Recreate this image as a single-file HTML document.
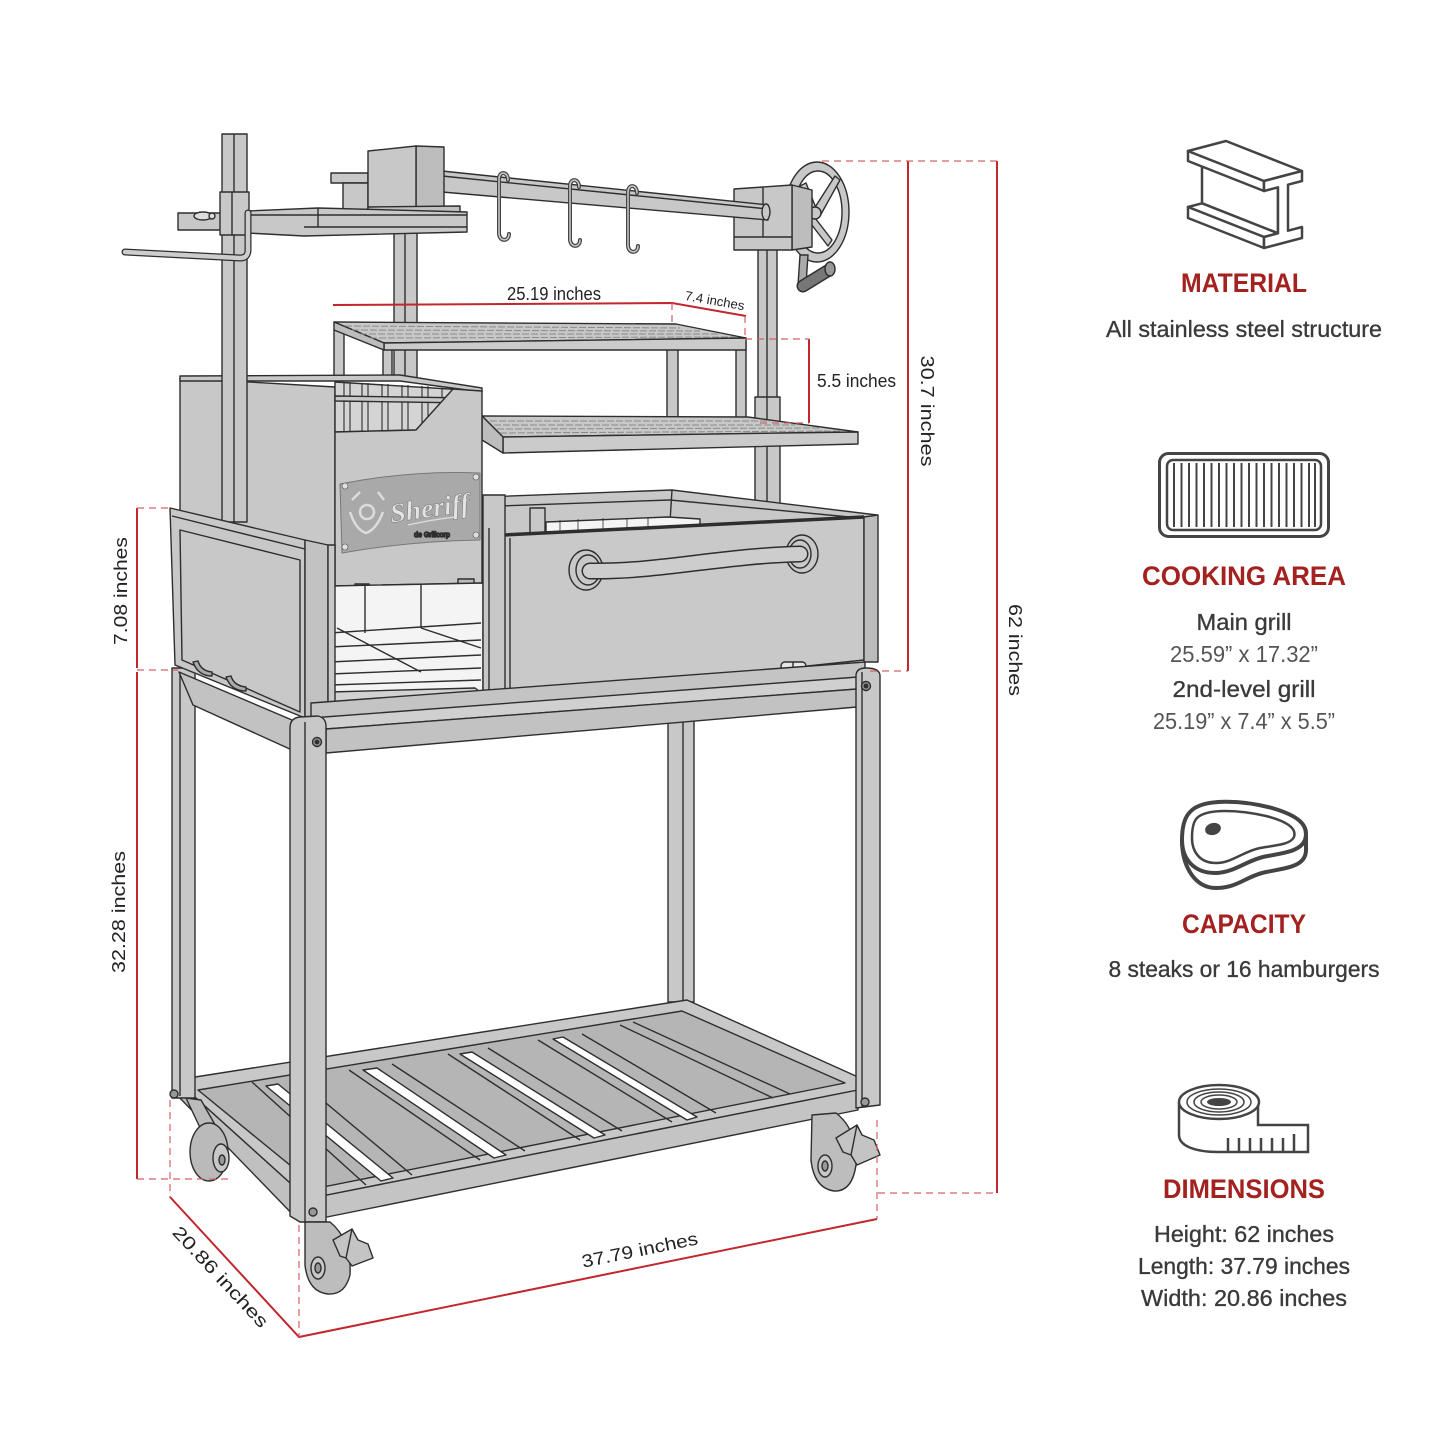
<!DOCTYPE html>
<html><head><meta charset="utf-8"><style>html,body{margin:0;padding:0;background:#fff}svg{display:block}</style></head>
<body>
<svg width="1445" height="1445" viewBox="0 0 1445 1445" xmlns="http://www.w3.org/2000/svg" font-family="Liberation Sans, sans-serif">
<rect width="1445" height="1445" fill="#fff"/>

<g stroke="#2e2e2e" stroke-width="1.4" stroke-linejoin="round" fill="#c8c8c8">
<!-- back-right leg -->
<rect x="668" y="700" width="26" height="302"/>
<line x1="683" y1="700" x2="683" y2="1002"/>

<!-- bottom shelf -->
<polygon points="176,1080 687,1000 858,1077 858,1090 322,1196 300,1192"/>
<polygon points="198,1090 682,1011 845,1083 318,1188" fill="#b5b5b5"/>
<polygon points="266,1086 278,1084 393,1178 381,1181" fill="#fff"/>
<polygon points="363,1070 377,1068 506,1155 494,1158" fill="#fff"/>
<polygon points="460,1054 472,1052 605,1135 594,1138" fill="#fff"/>
<polygon points="553,1039 563,1037 697,1117 687,1120" fill="#fff"/>
<g fill="none">
<line x1="252" y1="1082" x2="366" y2="1185"/>
<line x1="296" y1="1078" x2="412" y2="1175"/>
<line x1="349" y1="1070" x2="480" y2="1160"/>
<line x1="392" y1="1064" x2="525" y2="1151"/>
<line x1="448" y1="1054" x2="580" y2="1140"/>
<line x1="488" y1="1048" x2="622" y2="1131"/>
<line x1="538" y1="1040" x2="672" y2="1122"/>
<line x1="582" y1="1034" x2="716" y2="1113"/>
<line x1="620" y1="1025" x2="773" y2="1098"/>
<line x1="633" y1="1022" x2="790" y2="1094"/>
</g>
<polygon points="322,1196 858,1090 858,1110 322,1218" fill="#c4c4c4"/>
<polygon points="176,1080 300,1192 300,1222 176,1094" fill="#c0c0c0"/>

<!-- back-left leg & wheel -->
<polygon points="186,1098 201,1100 218,1130 203,1134" fill="#bbb"/>
<ellipse cx="209" cy="1152" rx="19" ry="29" fill="#bababa"/>
<ellipse cx="221" cy="1158" rx="8" ry="14" fill="#c8c8c8"/>
<ellipse cx="222" cy="1160" rx="3" ry="5" fill="#999"/>
<rect x="172" y="668" width="23" height="430"/>
<line x1="180" y1="672" x2="180" y2="1096"/>
<circle cx="174" cy="1094" r="4" fill="#999"/>

<!-- right post -->
<rect x="758" y="248" width="19" height="150"/>
<rect x="755" y="397" width="25" height="120"/>
<line x1="767" y1="250" x2="767" y2="515"/>
<!-- middle post -->
<rect x="394" y="232" width="23" height="148"/>
<line x1="405" y1="232" x2="405" y2="380"/>

<!-- top grill legs -->
<rect x="334" y="330" width="10" height="50"/>
<rect x="383" y="349" width="9" height="30"/>
<rect x="667" y="349" width="11" height="70"/>
<rect x="736" y="342" width="10" height="81"/>
<!-- top grill -->
<polygon points="334,322 676,324 746,338 384,343"/>
<polygon points="384,343 746,338 746,350 384,350" fill="#cbcbcb"/>
<polygon points="334,322 384,343 384,350 334,330" fill="#bdbdbd"/>
<g stroke="#8a8a8a" stroke-width="1" stroke-dasharray="7 2" fill="none">
<line x1="345" y1="326" x2="680" y2="328"/>
<line x1="352" y1="330" x2="700" y2="331"/>
<line x1="360" y1="334" x2="718" y2="334"/>
<line x1="370" y1="338" x2="735" y2="337"/>
</g>

<!-- rotisserie wheel -->
<ellipse cx="817" cy="212" rx="32" ry="50"/>
<ellipse cx="818" cy="212" rx="24" ry="41" fill="#fff"/>
<polygon points="812,212 835,176 840,180 820,216" />
<polygon points="812,214 832,240 828,246 808,220"/>
<polygon points="810,210 800,186 806,183 816,208"/>
<circle cx="815" cy="213" r="6"/>
<!-- crank -->
<polygon points="800,255 808,255 806,285 798,285" fill="#aaa"/>
<line x1="803" y1="286" x2="829" y2="270" stroke="#2e2e2e" stroke-width="13" stroke-linecap="round"/>
<line x1="803" y1="286" x2="829" y2="270" stroke="#777" stroke-width="10" stroke-linecap="round"/>
<ellipse cx="830" cy="269" rx="5" ry="7" fill="#999"/>

<!-- rotisserie box -->
<polygon points="792,185 812,190 812,247 792,250" fill="#bdbdbd"/>
<polygon points="734,189 792,185 792,250 734,250"/>
<line x1="734" y1="237" x2="792" y2="237"/>
<line x1="763" y1="187" x2="763" y2="237"/>

<!-- spit bar -->
<polygon points="442,171 768,205 768,220 442,192"/>
<line x1="442" y1="176" x2="768" y2="209"/>
<ellipse cx="766" cy="212" rx="4" ry="8"/>

<!-- hooks -->
<g fill="none" stroke-linecap="round">
<path d="M508,180 C508,171 499,171 499,179 L499,233 C499,242 509,242 509,234" stroke="#444" stroke-width="4"/>
<path d="M508,180 C508,171 499,171 499,179 L499,233 C499,242 509,242 509,234" stroke="#ccc" stroke-width="1.5"/>
<path d="M579,187 C579,178 570,178 570,186 L570,239 C570,248 580,248 580,240" stroke="#444" stroke-width="4"/>
<path d="M579,187 C579,178 570,178 570,186 L570,239 C570,248 580,248 580,240" stroke="#ccc" stroke-width="1.5"/>
<path d="M637,193 C637,184 628,184 628,192 L628,245 C628,254 638,254 638,246" stroke="#444" stroke-width="4"/>
<path d="M637,193 C637,184 628,184 628,192 L628,245 C628,254 638,254 638,246" stroke="#ccc" stroke-width="1.5"/>
</g>

<!-- motor -->
<rect x="331" y="173" width="37" height="10"/>
<rect x="343" y="183" width="25" height="28"/>
<polygon points="416,146 444,147 444,207 416,211" fill="#bdbdbd"/>
<polygon points="368,151 416,146 416,211 368,212"/>
<polygon points="368,207 460,206 460,213 368,214" fill="#c0c0c0"/>

<!-- shelf plate -->
<polygon points="247,211 318,208 467,212 467,232 304,236 247,233"/>
<line x1="318" y1="208" x2="318" y2="227"/>
<line x1="247" y1="215" x2="467" y2="215"/>
<line x1="304" y1="227" x2="467" y2="227"/>
<!-- clamp block -->
<rect x="178" y="213" width="44" height="17"/>
<ellipse cx="203" cy="216" rx="9" ry="4" fill="#ddd"/>
<circle cx="212" cy="216" r="3" fill="#ddd"/>

<!-- main grill -->
<polygon points="482,416 748,417 858,432 503,437"/>
<polygon points="503,437 858,432 858,444 503,453" fill="#cbcbcb"/>
<polygon points="482,416 503,437 503,453 482,440" fill="#bdbdbd"/>
<g stroke="#8a8a8a" stroke-width="1" stroke-dasharray="7 2" fill="none">
<line x1="490" y1="421" x2="770" y2="421"/>
<line x1="494" y1="425" x2="795" y2="425"/>
<line x1="497" y1="429" x2="820" y2="428"/>
<line x1="500" y1="433" x2="842" y2="431"/>
</g>

<!-- main box -->
<polygon points="484,497 672,490 877,515 864,518 505,536"/>
<line x1="500" y1="506" x2="670" y2="500"/>
<line x1="670" y1="500" x2="860" y2="518"/>
<line x1="672" y1="490" x2="670" y2="522"/>
<polygon points="546,522 668,517 700,519 700,526 546,533" fill="#f4f4f4"/>
<g stroke-width="0.8"><line x1="560" y1="520" x2="560" y2="533"/><line x1="578" y1="519" x2="578" y2="532"/><line x1="603" y1="518" x2="603" y2="530"/><line x1="627" y1="518" x2="627" y2="529"/><line x1="648" y1="517" x2="648" y2="528"/></g>
<rect x="530" y="508" width="15" height="27"/>
<polygon points="504,535 864,517 864,660 504,698" fill="#c9c9c9"/>
<line x1="504" y1="535" x2="864" y2="517" stroke-width="3.5"/>
<line x1="510" y1="538" x2="510" y2="697"/>
<polygon points="864,517 878,515 878,662 864,662" fill="#bcbcbc"/>
<!-- handle -->
<ellipse cx="586" cy="570" rx="17" ry="20"/>
<ellipse cx="588" cy="570" rx="12" ry="15"/>
<ellipse cx="802" cy="554" rx="16" ry="19"/>
<ellipse cx="800" cy="554" rx="11" ry="14"/>
<path d="M590,571 C660,572 720,556 800,554" fill="none" stroke="#2e2e2e" stroke-width="17" stroke-linecap="round"/>
<path d="M590,571 C660,572 720,556 800,554" fill="none" stroke="#cdcdcd" stroke-width="14" stroke-linecap="round"/>
<!-- hinges -->
<rect x="553" y="689" width="29" height="8" rx="4" fill="#e6e6e6"/>
<line x1="566" y1="689" x2="566" y2="697"/>
<rect x="781" y="662" width="25" height="8" rx="4" fill="#e6e6e6"/>
<line x1="793" y1="662" x2="793" y2="670"/>

<!-- firebox side panel -->
<polygon points="180,378 335,387 335,560 180,530"/>
<!-- rack -->
<polygon points="335,382 482,391 453,391 416,430 335,432" fill="#d4d4d4"/>
<g stroke-width="1.1">
<line x1="344" y1="382" x2="344" y2="432"/><line x1="350" y1="382" x2="350" y2="432"/>
<line x1="362" y1="383" x2="362" y2="432"/><line x1="368" y1="383" x2="368" y2="432"/>
<line x1="382" y1="384" x2="382" y2="431"/><line x1="388" y1="384" x2="388" y2="431"/>
<line x1="402" y1="385" x2="402" y2="431"/><line x1="408" y1="385" x2="408" y2="431"/>
<line x1="422" y1="386" x2="422" y2="425"/><line x1="428" y1="386" x2="428" y2="418"/>
<line x1="442" y1="388" x2="442" y2="402"/>
</g>
<polygon points="335,396 470,398 470,403 335,401"/>
<polygon points="180,376 400,375 482,388 482,392 400,381 180,381"/>
<!-- front panel -->
<polygon points="335,432 416,430 453,389 482,391 482,583 335,586"/>
<rect x="355" y="584" width="14" height="5" fill="#bbb"/>
<rect x="458" y="579" width="16" height="5" fill="#bbb"/>
<!-- logo -->
<path d="M340,484 Q410,470 480,473 L480,540 Q410,541 342,553 Z" fill="#a9a9a9" stroke="#777" stroke-width="1"/>
<g fill="#e0e0e0" stroke="#555" stroke-width="0.6">
<circle cx="345" cy="486" r="3"/><circle cx="476" cy="477" r="3"/><circle cx="345" cy="547" r="3"/><circle cx="476" cy="535" r="3"/>
</g>
<g fill="none" stroke="#dcdcdc" stroke-width="2.5">
<path d="M352,500 L360,492"/><path d="M378,492 L384,500"/>
<path d="M350,512 Q356,530 366,533 Q376,530 383,512"/>
<circle cx="367" cy="512" r="7"/>
</g>
<text x="431" y="517" font-size="27" font-style="italic" font-weight="bold" fill="#e4e4e4" stroke="#777" stroke-width="0.5" text-anchor="middle" transform="rotate(-8 431 517)" textLength="80" lengthAdjust="spacingAndGlyphs" font-family="Liberation Serif, serif">Sheriff</text>
<path d="M408,525 Q430,520 455,517" fill="none" stroke="#ddd" stroke-width="1.2"/>
<text x="432" y="537" font-size="7" fill="#dcdcdc" text-anchor="middle">de Grillcorp</text>

<!-- left post -->
<rect x="222" y="134" width="25" height="388"/>
<line x1="234" y1="134" x2="234" y2="522"/>
<rect x="220" y="192" width="29" height="43"/>
<line x1="232" y1="192" x2="232" y2="235"/>
<!-- handle rod -->
<path d="M125,252 L240,258 Q248,258 248,250 L248,213" fill="none" stroke="#2e2e2e" stroke-width="7" stroke-linecap="round"/>
<path d="M125,252 L240,258 Q248,258 248,250 L248,213" fill="none" stroke="#cdcdcd" stroke-width="4.5" stroke-linecap="round"/>

<!-- opening under firebox -->
<polygon points="330,586 483,583 483,703 330,705" fill="#f4f4f4"/>
<line x1="365" y1="586" x2="365" y2="633"/>
<line x1="421" y1="585" x2="421" y2="628"/>
<line x1="330" y1="633" x2="481" y2="623"/>
<line x1="330" y1="647" x2="481" y2="640"/>
<line x1="330" y1="662" x2="481" y2="655"/>
<line x1="330" y1="674" x2="481" y2="668"/>
<line x1="330" y1="685" x2="481" y2="680"/>
<line x1="337" y1="628" x2="421" y2="672"/>
<line x1="421" y1="628" x2="481" y2="648"/>
<polygon points="330,692 475,688 483,694 483,703 330,705" fill="#d2d2d2"/>

<!-- pillar -->
<rect x="483" y="495" width="22" height="208"/>
<line x1="489" y1="528" x2="489" y2="703"/>

<!-- left box -->
<polygon points="170,508 305,540 305,718 175,665"/>
<line x1="172" y1="516" x2="305" y2="549"/>
<polygon points="180,530 300,560 300,712 182,660" fill="none"/>
<polygon points="305,540 328,545 328,718 305,718" fill="#c2c2c2"/>
<rect x="328" y="545" width="7" height="173"/>
<g fill="#aaa">
<path d="M193,662 Q198,676 212,676 L212,672 Q201,671 198,661 Z"/>
<path d="M226,677 Q231,691 246,691 L246,687 Q234,686 231,676 Z"/>
</g>

<!-- top frame band & rails -->
<polygon points="311,703 865,662 865,678 311,720" fill="#c4c4c4"/>
<polygon points="311,718 858,677 858,689 326,729" fill="#d0d0d0"/>
<polygon points="326,729 857,689 857,707 326,753" fill="#c2c2c2"/>
<polygon points="179,672 292,720 292,750 193,705" fill="#c2c2c2"/>

<!-- front-left leg -->
<path d="M290,1216 L290,728 Q290,718 300,717 L318,716 Q326,718 326,726 L326,1222 L300,1222 Z"/>
<line x1="305" y1="722" x2="305" y2="1222"/>
<circle cx="317" cy="742" r="4.5" fill="#999"/><circle cx="317" cy="742" r="1.8" fill="#333"/>
<circle cx="313" cy="1212" r="4" fill="#999"/>
<!-- front-right leg -->
<path d="M856,1108 L856,676 Q856,668 866,668 Q880,668 880,676 L880,1105 Z"/>
<line x1="862" y1="672" x2="862" y2="1107"/>
<circle cx="866" cy="686" r="4.5" fill="#999"/><circle cx="866" cy="686" r="1.8" fill="#333"/>
<circle cx="865" cy="1102" r="4" fill="#999"/>

<!-- front-left wheel -->
<path d="M305,1222 L330,1222 Q352,1240 350,1275 Q345,1295 328,1294 Q308,1292 305,1265 Z" fill="#bdbdbd"/>
<ellipse cx="318" cy="1268" rx="7" ry="11" fill="#c8c8c8"/>
<ellipse cx="318" cy="1268" rx="3" ry="5" fill="#999"/>
<polygon points="333,1240 352,1229 358,1240 368,1244 373,1258 352,1266 346,1258 340,1256" fill="#c4c4c4"/>
<line x1="352" y1="1229" x2="346" y2="1258"/>
<!-- front-right wheel -->
<path d="M812,1115 L836,1113 Q858,1130 856,1165 Q852,1192 834,1191 Q814,1188 811,1160 Z" fill="#bdbdbd"/>
<ellipse cx="825" cy="1166" rx="7" ry="11" fill="#c8c8c8"/>
<ellipse cx="825" cy="1166" rx="3" ry="5" fill="#999"/>
<polygon points="836,1138 857,1125 862,1135 874,1140 880,1155 857,1165 851,1155 843,1152" fill="#c4c4c4"/>
<line x1="857" y1="1125" x2="851" y2="1155"/>
</g>

<!-- dimension lines -->
<g stroke="#c1272d" stroke-width="2" fill="none">
<line x1="997" y1="161" x2="997" y2="1193"/>
<line x1="908" y1="161" x2="908" y2="671"/>
<line x1="809" y1="339" x2="809" y2="423"/>
<polyline points="333,305 672,303 746,316"/>
<line x1="137" y1="508" x2="137" y2="668"/>
<line x1="137" y1="672" x2="137" y2="1179"/>
<polyline points="170,1197 299,1337 877,1219"/>
</g>
<g stroke="#d5606a" stroke-width="1.2" stroke-dasharray="7 5" fill="none">
<line x1="822" y1="161" x2="997" y2="161"/>
<line x1="870" y1="671" x2="908" y2="671"/>
<line x1="878" y1="1193" x2="997" y2="1193"/>
<line x1="745" y1="339" x2="809" y2="339"/>
<line x1="760" y1="423" x2="809" y2="423"/>
<line x1="672" y1="303" x2="672" y2="325"/>
<line x1="745" y1="316" x2="745" y2="338"/>
<line x1="137" y1="508" x2="170" y2="508"/>
<line x1="137" y1="670" x2="178" y2="670"/>
<line x1="137" y1="1179" x2="232" y2="1179"/>
<line x1="170" y1="1100" x2="170" y2="1197"/>
<line x1="299" y1="1225" x2="299" y2="1337"/>
<line x1="877" y1="1120" x2="877" y2="1219"/>
</g>

<!-- dimension labels -->
<g fill="#222" font-size="18">
<text x="554" y="300" text-anchor="middle" textLength="94" lengthAdjust="spacingAndGlyphs">25.19 inches</text>
<text x="0" y="0" font-size="13" text-anchor="middle" textLength="60" lengthAdjust="spacingAndGlyphs" transform="translate(714,305) rotate(10)">7.4 inches</text>
<text x="817" y="387" textLength="79" lengthAdjust="spacingAndGlyphs">5.5 inches</text>
<text x="0" y="0" text-anchor="middle" textLength="111" lengthAdjust="spacingAndGlyphs" transform="translate(921,411) rotate(90)">30.7 inches</text>
<text x="0" y="0" text-anchor="middle" textLength="92" lengthAdjust="spacingAndGlyphs" transform="translate(1009,650) rotate(90)">62 inches</text>
<text x="0" y="0" text-anchor="middle" textLength="108" lengthAdjust="spacingAndGlyphs" transform="translate(127,591) rotate(-90)">7.08 inches</text>
<text x="0" y="0" text-anchor="middle" textLength="122" lengthAdjust="spacingAndGlyphs" transform="translate(125,912) rotate(-90)">32.28 inches</text>
<text x="0" y="0" text-anchor="middle" textLength="131" lengthAdjust="spacingAndGlyphs" transform="translate(216,1281) rotate(47)">20.86 inches</text>
<text x="0" y="0" text-anchor="middle" textLength="118" lengthAdjust="spacingAndGlyphs" transform="translate(641,1256) rotate(-11.5)">37.79 inches</text>
</g>

<!-- ICONS -->
<g stroke="#444" stroke-width="2.5" stroke-linejoin="round" fill="#fff">
<!-- I-beam -->
<polygon points="1278,187.3 1278,233.3 1202,203.3 1202,157.3"/>
<polygon points="1264,237 1278,233.3 1202,203.3 1188,207"/>
<polygon points="1264,237 1264,248 1188,218 1188,207"/>
<polygon points="1264,181 1264,191 1188,161 1188,151"/>
<polygon points="1264,181 1302,171 1226,141 1188,151"/>
<polygon points="1264,181 1302,171 1302,181 1288,184.7 1288,230.7 1302,227 1302,238 1264,248 1264,237 1278,233.3 1278,187.3 1264,191"/>
<!-- grill icon -->
<rect x="1159.5" y="453.5" width="169" height="83" rx="9" stroke-width="3"/>
<rect x="1167" y="460" width="154" height="70" rx="6"/>
</g>
<g stroke="#444" stroke-width="2">
<line x1="1174" y1="463" x2="1174" y2="527"/><line x1="1181.5" y1="463" x2="1181.5" y2="527"/>
<line x1="1189" y1="463" x2="1189" y2="527"/><line x1="1196.5" y1="463" x2="1196.5" y2="527"/>
<line x1="1204" y1="463" x2="1204" y2="527"/><line x1="1211.5" y1="463" x2="1211.5" y2="527"/>
<line x1="1219" y1="463" x2="1219" y2="527"/><line x1="1226.5" y1="463" x2="1226.5" y2="527"/>
<line x1="1234" y1="463" x2="1234" y2="527"/><line x1="1241.5" y1="463" x2="1241.5" y2="527"/>
<line x1="1249" y1="463" x2="1249" y2="527"/><line x1="1256.5" y1="463" x2="1256.5" y2="527"/>
<line x1="1264" y1="463" x2="1264" y2="527"/><line x1="1271.5" y1="463" x2="1271.5" y2="527"/>
<line x1="1279" y1="463" x2="1279" y2="527"/><line x1="1286.5" y1="463" x2="1286.5" y2="527"/>
<line x1="1294" y1="463" x2="1294" y2="527"/><line x1="1301.5" y1="463" x2="1301.5" y2="527"/>
<line x1="1309" y1="463" x2="1309" y2="527"/><line x1="1315" y1="463" x2="1315" y2="527"/>
</g>
<!-- steak -->
<g stroke="#444" stroke-width="4" fill="none" stroke-linejoin="round">
<path d="M1182,840 C1182,868 1196,888 1216,888 C1238,888 1246,876 1266,872 C1288,868 1306,866 1306,850 L1306,836"/>
<path d="M1190,812 C1202,798 1242,800 1272,808 C1296,815 1310,824 1305,840 C1300,852 1282,853 1263,857 C1246,861 1233,873 1215,873 C1195,873 1182,860 1182,840 C1182,828 1184,818 1190,812 Z"/>
<path d="M1197,818 C1207,808 1240,810 1266,816 C1286,821 1297,828 1294,837 C1290,845 1276,845 1260,848 C1244,851 1232,863 1216,863 C1200,863 1192,852 1192,838 C1192,829 1193,822 1197,818 Z" stroke-width="2.5"/>
</g>
<ellipse cx="1213" cy="829" rx="8" ry="6" fill="#444" transform="rotate(-15 1213 829)"/>
<!-- tape -->
<g stroke="#444" stroke-width="2.5" fill="none">
<path d="M1179,1102 L1179,1135 C1179,1147 1198,1152 1218,1152 L1308,1152 L1308,1125 L1258,1125 L1258,1102"/>
<ellipse cx="1219" cy="1102" rx="40" ry="17" fill="#fff"/>
<ellipse cx="1219" cy="1102" rx="32" ry="13" stroke-width="1.5"/>
<ellipse cx="1219" cy="1102" rx="25" ry="10" stroke-width="1.5"/>
<ellipse cx="1219" cy="1102" rx="18" ry="7" stroke-width="1.5"/>
<line x1="1228" y1="1138" x2="1228" y2="1152"/><line x1="1239" y1="1138" x2="1239" y2="1152"/>
<line x1="1250" y1="1138" x2="1250" y2="1152"/><line x1="1261" y1="1138" x2="1261" y2="1152"/>
<line x1="1272" y1="1138" x2="1272" y2="1152"/><line x1="1283" y1="1138" x2="1283" y2="1152"/>
<line x1="1294" y1="1134" x2="1294" y2="1152"/>
</g>
<ellipse cx="1219" cy="1102" rx="12" ry="4" fill="#444"/>

<!-- right texts -->
<g fill="#a3211f" font-weight="bold" font-size="27" text-anchor="middle">
<text x="1244" y="292" textLength="126" lengthAdjust="spacingAndGlyphs">MATERIAL</text>
<text x="1244" y="585" textLength="204" lengthAdjust="spacingAndGlyphs">COOKING AREA</text>
<text x="1244" y="933" textLength="124" lengthAdjust="spacingAndGlyphs">CAPACITY</text>
<text x="1244" y="1198" textLength="162" lengthAdjust="spacingAndGlyphs">DIMENSIONS</text>
</g>
<g fill="#3a3a3a" font-size="23" text-anchor="middle" stroke="#3a3a3a" stroke-width="0.35">
<text x="1244" y="337" textLength="276" lengthAdjust="spacingAndGlyphs">All stainless steel structure</text>
<text x="1244" y="630" textLength="95" lengthAdjust="spacingAndGlyphs">Main grill</text>
<text x="1244" y="697" textLength="143" lengthAdjust="spacingAndGlyphs">2nd-level grill</text>
<text x="1244" y="977" textLength="271" lengthAdjust="spacingAndGlyphs">8 steaks or 16 hamburgers</text>
<text x="1244" y="1242" textLength="180" lengthAdjust="spacingAndGlyphs">Height: 62 inches</text>
<text x="1244" y="1274" textLength="212" lengthAdjust="spacingAndGlyphs">Length: 37.79 inches</text>
<text x="1244" y="1306" textLength="206" lengthAdjust="spacingAndGlyphs">Width: 20.86 inches</text>
</g>
<g fill="#555" font-size="23" text-anchor="middle">
<text x="1244" y="662" textLength="148" lengthAdjust="spacingAndGlyphs">25.59” x 17.32”</text>
<text x="1244" y="729" textLength="182" lengthAdjust="spacingAndGlyphs">25.19” x 7.4” x 5.5”</text>
</g>
</svg>
</body></html>
